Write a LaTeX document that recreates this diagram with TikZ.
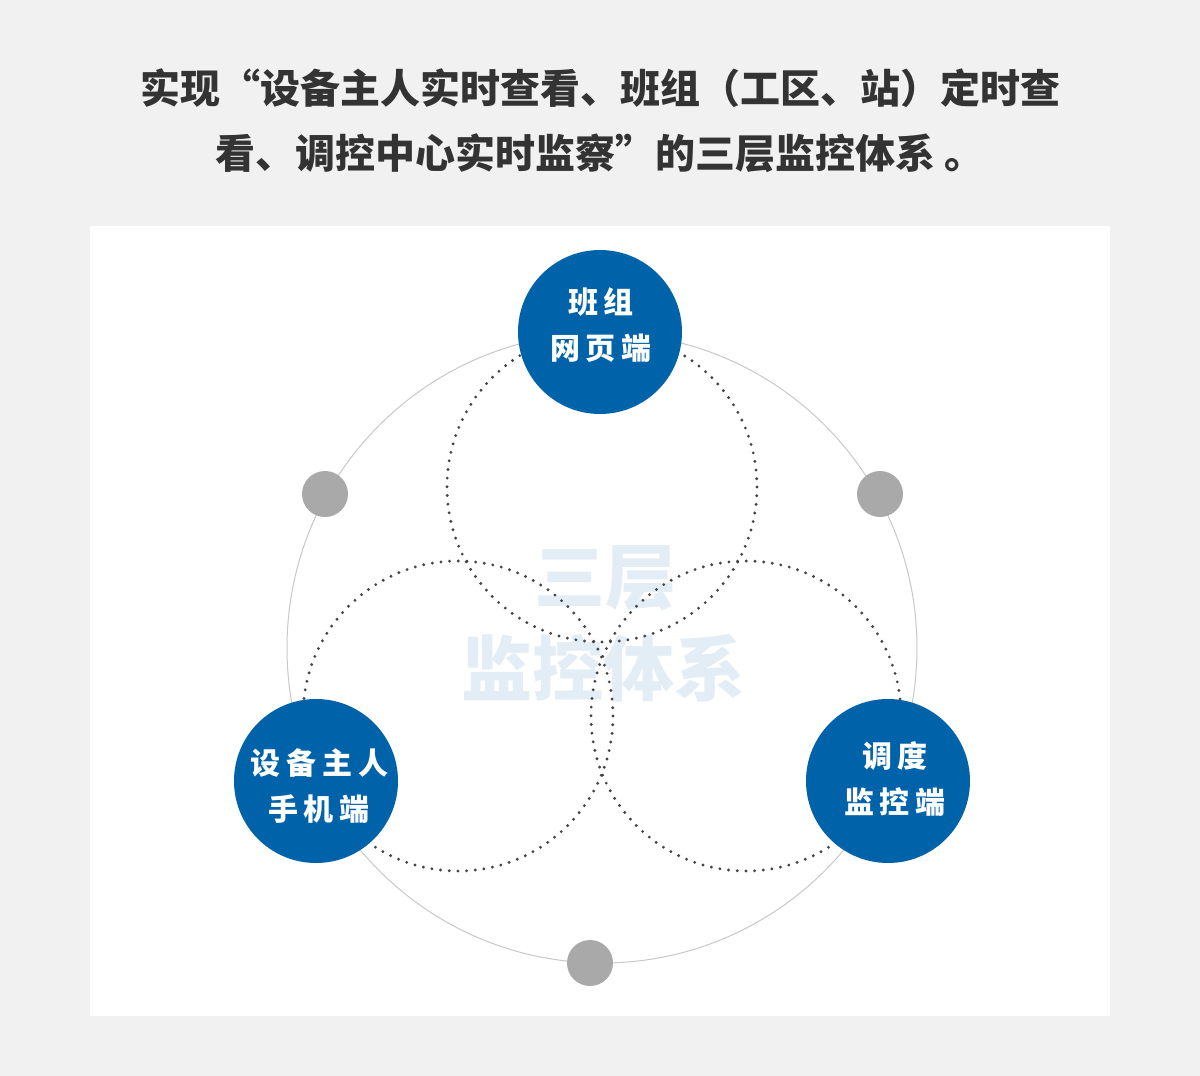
\documentclass[tikz,border=0pt]{standalone}
\usepackage{fontspec}
\usepackage{tikz}
\newfontfamily\cjk{Noto Sans CJK SC}
\newfontfamily\cjkwide{Noto Sans CJK SC}[LetterSpace=20]
\definecolor{pageGray}{HTML}{F1F1F1}
\definecolor{nodeBlue}{HTML}{0062A9}
\definecolor{jointGray}{HTML}{A9A9A9}
\definecolor{ringGray}{HTML}{C8C8C8}
\definecolor{dotGray}{HTML}{444444}
\definecolor{markBlue}{HTML}{E3EDF6}
\definecolor{titleGray}{HTML}{333333}

\begin{document}
\begin{tikzpicture}[x=1pt, y=-1pt,
		endpoint/.style={circle, fill=nodeBlue, minimum size=164pt, inner sep=0pt},
		endtext/.style={text=white, font=\cjkwide\bfseries\fontsize{30}{46}\selectfont, align=center, inner sep=0pt},
		joint/.style={circle, fill=jointGray, minimum size=46pt, inner sep=0pt},
		ring/.style={dotGray, line width=3.2pt, line cap=round, dash pattern=on 0pt off 8.7pt}]
	% page and panel
	\fill[pageGray] (0,0) rectangle (1200,1076);
	\fill[white] (90,226) rectangle (1110,1016);
	% title
	\node (title1) at (600,88) [text=titleGray, font=\cjk\bfseries\fontsize{40}{40}\selectfont, inner sep=0pt]
		{实现\makebox[1em][r]{“}设备主人实时查看、班组（工区、站）定时查};
	\node (title2) at (600,153) [text=titleGray, font=\cjk\bfseries\fontsize{40}{40}\selectfont, inner sep=0pt]
		{看、调控中心实时监察\makebox[1em][l]{”}的三层监控体系 。};
	% watermark
	\node (mark1) at (605,578) [text=markBlue, font=\cjk\bfseries\fontsize{71}{71}\selectfont, inner sep=0pt] {三层};
	\node (mark2) at (603,668) [text=markBlue, font=\cjk\bfseries\fontsize{71}{71}\selectfont, inner sep=0pt] {监控体系};
	% outer ring and dotted rings
	\coordinate (hub) at (602,648);
	\draw[ringGray, line width=1pt] (hub) circle [radius=315];
	\draw[ring] (602,487) circle [radius=155];
	\draw[ring] (458,716) circle [radius=155];
	\draw[ring] (746,716) circle [radius=155];
	% joints on the ring
	\node (jl) at (325,494) [joint] {};
	\node (jr) at (880,494) [joint] {};
	\node (jb) at (590,963) [joint] {};
	% three ends
	\node (banzu)    at (600,332) [endpoint] {};
	\node (shebei)   at (316,781) [endpoint] {};
	\node (diaodu)   at (888,781) [endpoint] {};
	\node (banzuT)   at (601,325) [endtext] {班组\\网页端};
	\node (shebeiT)  at (319,786) [endtext] {设备主人\\手机端};
	\node (diaoduT)  at (895,779) [endtext] {调度\\监控端};
\end{tikzpicture}
\end{document}
